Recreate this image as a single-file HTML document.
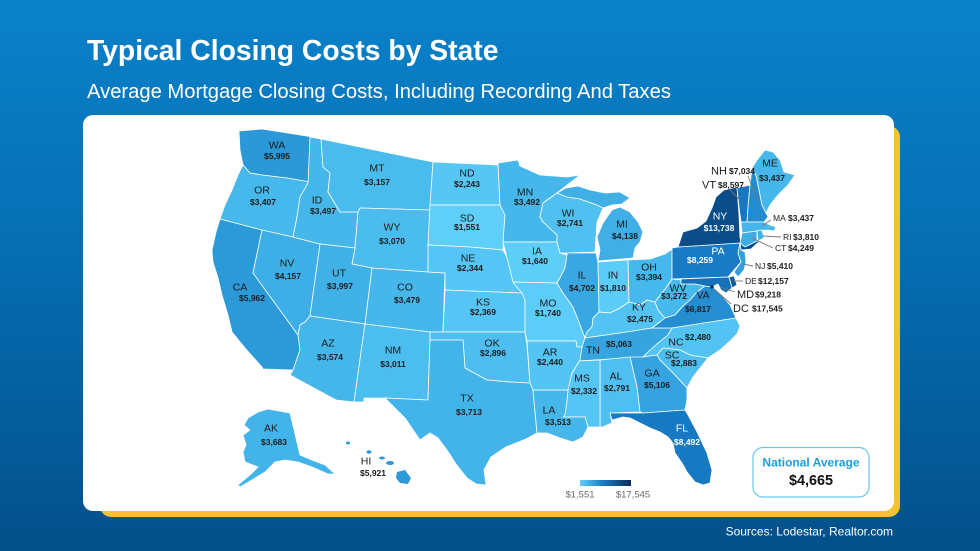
<!DOCTYPE html>
<html><head><meta charset="utf-8"><style>
html,body{margin:0;padding:0;width:980px;height:551px;overflow:hidden;}
svg{display:block;font-family:"Liberation Sans",Arial,sans-serif;}
.a{font-size:10.5px;fill:#1c1c1c;text-anchor:middle;}
.v{font-size:8.5px;font-weight:bold;fill:#1c1c1c;text-anchor:middle;}
.w{fill:#ffffff;}
.s{font-size:11px;fill:#1c1c1c;}
.sv{font-size:8.5px;font-weight:bold;fill:#1c1c1c;}
.t{font-size:8.5px;fill:#1c1c1c;}
</style></head><body>
<svg width="980" height="551" viewBox="0 0 980 551">
<defs>
<linearGradient id="bg" x1="0" y1="0" x2="0" y2="1">
<stop offset="0" stop-color="#0a82ca"/>
<stop offset="0.45" stop-color="#066eb3"/>
<stop offset="1" stop-color="#03508a"/>
</linearGradient>
<linearGradient id="lg" x1="0" y1="0" x2="1" y2="0">
<stop offset="0" stop-color="#5fcffa"/>
<stop offset="0.45" stop-color="#1a7cc4"/>
<stop offset="1" stop-color="#082d55"/>
</linearGradient>
</defs>
<rect width="980" height="551" fill="url(#bg)"/>
<text x="87" y="60" font-size="28.3" font-weight="bold" fill="#fff">Typical Closing Costs by State</text>
<text x="87" y="98" font-size="20.2" fill="#fff">Average Mortgage Closing Costs, Including Recording And Taxes</text>
<rect x="100" y="126" width="800" height="391" rx="11" fill="#f2c230"/>
<rect x="83" y="115" width="811" height="396" rx="10" fill="#fff"/>

<g stroke="#ffffff" stroke-width="0.8" stroke-linejoin="round">
<polygon fill="#2b98d8" points="239,131 262,129 313,137 310,182 287,178 262,175 250,173 243,165 240,150"/>
<polygon fill="#46b8eb" points="243,165 250,173 262,175 287,178 310,182 300,197 297,217 293,237 260,230 220,219 225,205 232,190 238,175"/>
<polygon fill="#2c99d9" points="220,219 262,230 253,273 298,335 300,350 293,370 263,369 262,367 245,348 232,332 228,315 222,295 218,278 213,262 212,250 216,232"/>
<polygon fill="#3eafe6" points="262,230 293,237 320,244 310,316 305,322 300,325 298,335 253,273"/>
<polygon fill="#45b7ea" points="310,137 321,139 323,167 330,173 328,192 340,212 358,212 355,248 320,244 293,237 297,217 300,197 308,183"/>
<polygon fill="#49bbed" points="321,139 433,162 430,210 360,208 358,212 340,212 328,192 330,173 323,167"/>
<polygon fill="#4abcee" points="360,208 430,210 428,272 372,268 352,264 355,248 358,212"/>
<polygon fill="#40b1e7" points="320,244 355,248 352,264 372,268 365,324 310,316"/>
<polygon fill="#46b7eb" points="372,268 428,272 445,273 443,332 430,332 365,324"/>
<polygon fill="#45b6ea" points="310,316 365,324 354,402 336,400 290,375 293,370 300,350 298,335 300,325 305,322"/>
<polygon fill="#4bbdef" points="365,324 430,332 430,340 428,400 385,398 364,398 364,402 354,402"/>
<polygon fill="#56c6f4" points="433,162 498,165 500,205 430,205"/>
<polygon fill="#5fcffa" points="430,205 500,205 505,215 503,250 470,247 428,245"/>
<polygon fill="#54c5f4" points="428,245 470,247 503,250 510,263 515,282 522,293 445,290 445,273 428,272"/>
<polygon fill="#54c5f4" points="445,290 522,293 525,300 525,332 443,332"/>
<polygon fill="#4dbeef" points="430,332 525,332 527,345 530,383 510,382 487,380 465,368 463,340 430,340"/>
<polygon fill="#43b4e9" points="430,340 463,340 465,368 487,380 510,382 530,383 533,390 537,433 526,439 506,447 491,457 484,470 486,485 476,484 467,478 456,464 447,450 438,438 430,433 420,440 405,418 385,398 428,400"/>
<polygon fill="#45b7ea" points="498,163 518,160 520,166 540,175 567,177 580,175 557,193 543,203 540,217 543,222 557,235 557,242 503,242 505,215 500,205"/>
<polygon fill="#5ecef9" points="503,242 557,242 560,253 567,255 565,268 560,278 557,283 513,282 508,262"/>
<polygon fill="#5ccdf8" points="513,282 557,283 563,293 573,307 577,317 582,330 585,338 582,347 577,347 576,341 527,341 525,332 525,300 522,293 515,285"/>
<polygon fill="#4fc0f0" points="543,203 557,193 567,197 580,199 597,205 603,208 597,222 595,252 567,253 560,253 557,242 557,235 543,222 540,217"/>
<polygon fill="#3fafe6" points="557,193 566,188 578,186 590,190 605,193 620,192 630,198 622,204 612,205 603,208 597,205 580,199 567,197"/>
<polygon fill="#3fafe6" points="607,217 612,210 620,207 630,212 638,222 643,232 640,242 635,248 633,258 598,261 600,250 597,237 603,223"/>
<polygon fill="#39a8e2" points="567,253 596,253 598,262 599,300 599,312 593,318 592,327 587,332 585,338 582,330 577,317 573,307 563,293 557,283 560,278 565,268 567,255"/>
<polygon fill="#5bccf8" points="598,262 612,261 628,260 629,302 620,308 610,313 599,312"/>
<polygon fill="#46b8eb" points="628,260 650,259 665,254 672,249 672,279 666,288 658,298 655,302 647,300 640,305 629,302"/>
<polygon fill="#52c3f2" points="593,318 599,312 610,313 620,308 629,302 640,305 647,300 655,302 658,310 665,318 660,322 652,328 620,333 585,338 587,332 592,327"/>
<polygon fill="#35a4df" points="585,338 620,333 652,328 672,328 668,335 658,343 648,352 643,357 578,361 580,350 582,347"/>
<polygon fill="#48b9ec" points="672,279 681,280 681,284 695,284 705,286 697,292 690,300 683,306 675,315 665,318 658,310 655,302 658,298 666,288"/>
<polygon fill="#248ed1" points="705,286 712,287 718,292 724,298 730,305 736,318 672,328 652,328 660,322 665,318 675,315 683,306 690,300 697,292"/>
<polygon fill="#52c3f2" points="643,357 648,352 658,343 668,335 672,328 736,318 740,326 737,334 730,341 720,350 708,358 690,355 680,350 663,348 657,355"/>
<polygon fill="#4dbeef" points="657,355 663,348 680,350 690,355 708,358 700,368 693,377 687,388 673,373 660,360"/>
<polygon fill="#35a3df" points="630,357 643,357 657,355 660,360 673,373 687,388 687,400 685,410 643,413 640,412 637,387"/>
<polygon fill="#4ebff0" points="600,360 630,357 637,387 640,412 610,413 612,423 607,425 603,427 600,427"/>
<polygon fill="#54c5f4" points="578,361 600,360 600,427 588,427 585,417 563,417 565,415 567,400 568,387 572,373 580,360"/>
<polygon fill="#45b7ea" points="533,390 568,390 567,400 565,415 563,417 585,417 588,427 583,437 573,442 560,438 547,433 537,433"/>
<polygon fill="#53c4f3" points="527,341 576,341 577,347 582,347 580,360 572,373 568,390 533,390 530,383"/>
<polygon fill="#1679c2" points="610,413 643,413 685,410 688,415 697,432 707,453 712,470 710,483 703,485 695,482 687,472 682,463 675,453 673,443 668,437 660,432 650,428 640,423 630,418 623,417 612,420"/>
<polygon fill="#187cc4" points="672,248 678,247 740,243 738,253 741,262 734,270 728,277 672,279"/>
<polygon fill="#0b4d89" points="678,247 683,232 697,228 706,221 712,208 716,197 724,190 737,187 739,215 740,238 743,246 752,243 762,239 751,249 741,250 740,243"/>
<polygon fill="#319fdc" points="740,243 741,250 745,252 746,262 744,270 738,277 734,272 741,262 738,253"/>
<polygon fill="#0d5a98" points="729,277 734,276 737,285 732,288"/>
<polygon fill="#1372ba" points="681,279 729,277 732,288 726,293 721,290 718,284 712,287 705,286 695,284 681,284"/>
<polygon fill="#1578c1" points="737,188 750,185 748,207 747,222 741,222 739,207"/>
<polygon fill="#238bcf" points="750,185 752,168 756,175 762,205 768,217 764,222 747,222 748,207"/>
<polygon fill="#46b7eb" points="752,168 757,160 765,150 773,152 780,160 784,172 795,175 788,185 778,195 770,205 766,213 762,205 756,175"/>
<polygon fill="#46b7eb" points="741,222 764,222 770,225 776,227 774,231 768,230 757,231 742,233"/>
<polygon fill="#3eaee5" points="742,233 757,231 757,241 745,247 740,243"/>
<polygon fill="#42b3e8" points="757,231 762,230 764,238 758,241"/>
<circle cx="712" cy="287" r="1.8" fill="#082d55" stroke="none"/>
<polygon fill="#43b4e9" points="248,418 258,412 268,409 290,413 300,455 312,460 325,465 335,474 328,474 312,467 298,462 285,460 275,462 265,472 252,480 240,487 238,485 250,475 258,467 245,462 243,452 246,445 243,435 250,430 244,425"/>
<g fill="#2c99d9" stroke="none">
<polygon points="397,472 405,470 411,478 408,484 400,483 396,478"/>
<ellipse cx="390" cy="463" rx="4" ry="2"/>
<ellipse cx="382" cy="458" rx="3" ry="1.5"/>
<ellipse cx="369" cy="452" rx="2.5" ry="1.8"/>
<ellipse cx="348" cy="443" rx="2" ry="1.5"/>
</g>
</g>

<g stroke="#777" stroke-width="0.9" fill="none">
<line x1="748" y1="176" x2="757" y2="200"/>
<line x1="730" y1="190" x2="740" y2="200"/>
<line x1="771" y1="220" x2="762" y2="226"/>
<line x1="781" y1="237" x2="763" y2="236"/>
<line x1="773" y1="248" x2="752" y2="238"/>
<line x1="753" y1="266" x2="743" y2="264"/>
<line x1="743" y1="281" x2="733" y2="281"/>
<line x1="735" y1="292" x2="720" y2="287"/>
<line x1="731" y1="304" x2="713" y2="288"/>
</g>

<text class="a" x="277" y="148.7">WA</text><text class="v" x="277" y="159">$5,995</text>
<text class="a" x="262" y="193.7">OR</text><text class="v" x="263" y="205">$3,407</text>
<text class="a" x="240" y="290.7">CA</text><text class="v" x="252" y="301">$5,962</text>
<text class="a" x="287" y="266.7">NV</text><text class="v" x="288" y="279">$4,157</text>
<text class="a" x="317" y="203.7">ID</text><text class="v" x="323" y="214">$3,497</text>
<text class="a" x="377" y="171.7">MT</text><text class="v" x="377" y="185">$3,157</text>
<text class="a" x="392" y="230.7">WY</text><text class="v" x="392" y="244">$3,070</text>
<text class="a" x="339" y="276.7">UT</text><text class="v" x="340" y="289">$3,997</text>
<text class="a" x="405" y="290.7">CO</text><text class="v" x="407" y="303">$3,479</text>
<text class="a" x="328" y="346.7">AZ</text><text class="v" x="330" y="360">$3,574</text>
<text class="a" x="393" y="353.7">NM</text><text class="v" x="393" y="367">$3,011</text>
<text class="a" x="467" y="176.7">ND</text><text class="v" x="467" y="187">$2,243</text>
<text class="a" x="467" y="221.7">SD</text><text class="v" x="467" y="230">$1,551</text>
<text class="a" x="468" y="261.7">NE</text><text class="v" x="470" y="271">$2,344</text>
<text class="a" x="483" y="305.7">KS</text><text class="v" x="483" y="315">$2,369</text>
<text class="a" x="492" y="346.7">OK</text><text class="v" x="493" y="356">$2,896</text>
<text class="a" x="467" y="401.7">TX</text><text class="v" x="469" y="415">$3,713</text>
<text class="a" x="525" y="195.7">MN</text><text class="v" x="527" y="205">$3,492</text>
<text class="a" x="537" y="254.7">IA</text><text class="v" x="535" y="264">$1,640</text>
<text class="a" x="548" y="306.7">MO</text><text class="v" x="548" y="316">$1,740</text>
<text class="a" x="550" y="355.7">AR</text><text class="v" x="550" y="365">$2,440</text>
<text class="a" x="549" y="413.7">LA</text><text class="v" x="558" y="425">$3,513</text>
<text class="a" x="568" y="216.7">WI</text><text class="v" x="570" y="226">$2,741</text>
<text class="a" x="622" y="227.7">MI</text><text class="v" x="625" y="239">$4,138</text>
<text class="a" x="582" y="278.7">IL</text><text class="v" x="582" y="291">$4,702</text>
<text class="a" x="613" y="278.7">IN</text><text class="v" x="613" y="291">$1,810</text>
<text class="a" x="649" y="270.7">OH</text><text class="v" x="649" y="280">$3,394</text>
<text class="a" x="639" y="310.7">KY</text><text class="v" x="640" y="322">$2,475</text>
<text class="a" x="593" y="353.7">TN</text><text class="v" x="619" y="347">$5,063</text>
<text class="a" x="582" y="381.7">MS</text><text class="v" x="584" y="394">$2,332</text>
<text class="a" x="616" y="379.7">AL</text><text class="v" x="617" y="391">$2,791</text>
<text class="a" x="652" y="376.7">GA</text><text class="v" x="657" y="388">$5,106</text>
<text class="a" x="672" y="358.7">SC</text><text class="v" x="684" y="366">$2,883</text>
<text class="a" x="676" y="345.7">NC</text><text class="v" x="698" y="340">$2,480</text>
<text class="a w" x="682" y="431.7">FL</text><text class="v w" x="687" y="445">$8,492</text>
<text class="a" x="678" y="291.7">WV</text><text class="v" x="674" y="299" font-size="7.5">$3,272</text>
<text class="a" x="703" y="298.7">VA</text><text class="v" x="698" y="312">$6,817</text>
<text class="a w" x="718" y="254.5" font-size="12">PA</text><text class="v w" x="700" y="263">$8,259</text>
<text class="a w" x="720" y="219.5" font-size="12.5">NY</text><text class="v w" x="719" y="231">$13,738</text>
<text class="a" x="770" y="166.7">ME</text><text class="v" x="772" y="181">$3,437</text>
<text class="a" x="271" y="431.7">AK</text><text class="v" x="274" y="445">$3,683</text>
<text class="a" x="366" y="464.7">HI</text><text class="v" x="373" y="476">$5,921</text>

<text class="s" x="711" y="174.5">NH</text><text class="sv" x="729" y="174">$7,034</text>
<text class="s" x="702" y="188.5">VT</text><text class="sv" x="718" y="188">$8,597</text>
<text class="t" x="773" y="221">MA</text><text class="sv" x="788" y="221">$3,437</text>
<text class="t" x="783" y="240">RI</text><text class="sv" x="793" y="240">$3,810</text>
<text class="t" x="775" y="251">CT</text><text class="sv" x="788" y="251">$4,249</text>
<text class="t" x="755" y="269">NJ</text><text class="sv" x="767" y="269">$5,410</text>
<text class="t" x="745" y="284">DE</text><text class="sv" x="758" y="284">$12,157</text>
<text class="s" x="737" y="298">MD</text><text class="sv" x="755" y="297.5">$9,218</text>
<text class="s" x="733" y="312">DC</text><text class="sv" x="752" y="311.5">$17,545</text>

<rect x="580" y="480" width="51" height="6" fill="url(#lg)"/>
<text x="580" y="497.5" font-size="9.5" fill="#6b6b6b" text-anchor="middle">$1,551</text>
<text x="633" y="497.5" font-size="9.5" fill="#6b6b6b" text-anchor="middle">$17,545</text>

<rect x="753" y="447.5" width="116" height="49.5" rx="10" fill="#fff" stroke="#6cc6ee" stroke-width="1.2"/>
<text x="811" y="466.3" font-size="12" font-weight="bold" fill="#1aa0e0" text-anchor="middle">National Average</text>
<text x="811" y="485.2" font-size="14.4" font-weight="bold" fill="#111" text-anchor="middle">$4,665</text>

<text x="893" y="535.3" font-size="12" fill="#fff" text-anchor="end">Sources: Lodestar, Realtor.com</text>
</svg>
</body></html>
